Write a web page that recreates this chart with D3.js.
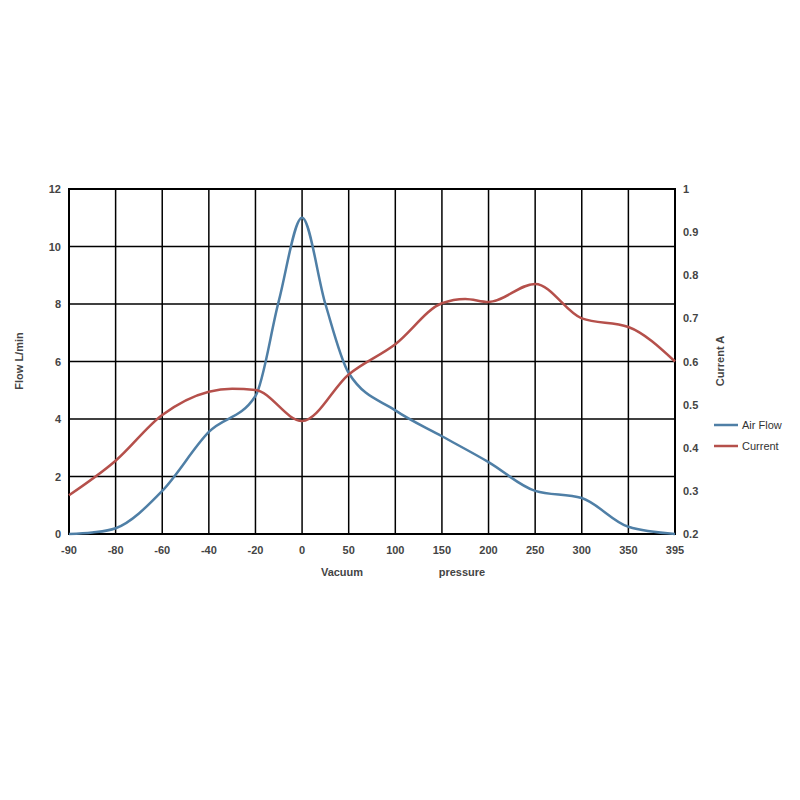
<!DOCTYPE html><html><head><script src="https://cdn.jsdelivr.net/npm/d3@7"></script>
<style>body{margin:0;background:#fff}text{font-family:"Liberation Sans",Arial,sans-serif}</style></head><body>
<svg id="c" width="800" height="800"></svg>
<script>
const xLabels=["-90","-80","-60","-40","-20","0","50","100","150","200","250","300","350","395"];
const flowIdx=[0,0.5,1,2,3,4,4.5,5,5.5,6,7,8,9,10,11,12,13];
const flowVal=[0,0.05,0.2,1.5,3.55,4.8,8.1,11.0,8.0,5.6,4.3,3.4,2.5,1.5,1.25,0.25,0];
const curIdx=[0,1,2,3,3.5,4,5,6,7,8,8.5,9,10,11,12,13];
const curVal=[0.29,0.37,0.476,0.53,0.537,0.534,0.462,0.57,0.64,0.735,0.745,0.738,0.78,0.70,0.68,0.6];
const yLeft=[0,2,4,6,8,10,12];
const yRight=[0.2,0.3,0.4,0.5,0.6,0.7,0.8,0.9,1];
const svg=d3.select("#c");
const L=69,R=675,T=189,B=534;
const x=d3.scaleLinear().domain([0,13]).range([L,R]);
const yl=d3.scaleLinear().domain([0,12]).range([B,T]);
const yr=d3.scaleLinear().domain([0.2,1]).range([B,T]);
const g=svg.append("g");
d3.range(14).forEach(i=>g.append("line").attr("x1",x(i)).attr("x2",x(i)).attr("y1",T).attr("y2",B).attr("stroke","#000").attr("stroke-width",1.5));
yLeft.forEach(v=>g.append("line").attr("x1",L).attr("x2",R).attr("y1",yl(v)).attr("y2",yl(v)).attr("stroke","#000").attr("stroke-width",1.5));
g.append("rect").attr("x",L).attr("y",T).attr("width",R-L).attr("height",B-T).attr("fill","none").attr("stroke","#000").attr("stroke-width",2);
const ts={"font-size":"11px","font-weight":"bold","fill":"#444"};
function st(s){for(const k in ts)s.style(k,ts[k]);return s;}
xLabels.forEach((t,i)=>st(svg.append("text").attr("x",x(i)).attr("y",B+20).attr("text-anchor","middle").text(t)));
yLeft.forEach(v=>st(svg.append("text").attr("x",L-8).attr("y",yl(v)+4).attr("text-anchor","end").text(v)));
yRight.forEach(v=>st(svg.append("text").attr("x",R+8).attr("y",yr(v)+4).attr("text-anchor","start").text(v)));
st(svg.append("text").attr("transform","translate(23,361) rotate(-90)").attr("text-anchor","middle").text("Flow  L/min"));
st(svg.append("text").attr("transform","translate(724,361) rotate(-90)").attr("text-anchor","middle").text("Current  A"));
st(svg.append("text").attr("x",342).attr("y",576).attr("text-anchor","middle").text("Vacuum"));
st(svg.append("text").attr("x",462).attr("y",576).attr("text-anchor","middle").text("pressure"));
const lf=d3.line().curve(d3.curveMonotoneX).x(d=>x(d[0])).y(d=>yl(d[1]));
const lc=d3.line().curve(d3.curveMonotoneX).x(d=>x(d[0])).y(d=>yr(d[1]));
svg.append("path").attr("d",lf(flowIdx.map((v,i)=>[v,flowVal[i]]))).attr("fill","none").attr("stroke","#4f7fa6").attr("stroke-width",2.5);
svg.append("path").attr("d",lc(curIdx.map((v,i)=>[v,curVal[i]]))).attr("fill","none").attr("stroke","#b5504b").attr("stroke-width",2.5);
[["Air Flow","#4f7fa6",425],["Current","#b5504b",446]].forEach(([n,c,yy])=>{
svg.append("line").attr("x1",714).attr("x2",738).attr("y1",yy).attr("y2",yy).attr("stroke",c).attr("stroke-width",2.5);
svg.append("text").attr("x",742).attr("y",yy+4).style("font-size","11px").style("fill","#333").text(n);});
</script></body></html>
